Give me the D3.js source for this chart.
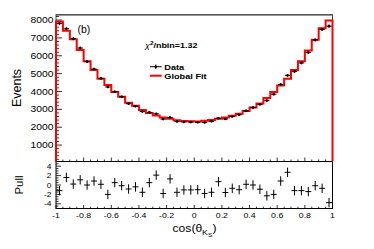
<!DOCTYPE html>
<html><head><meta charset="utf-8">
<script src="https://cdn.jsdelivr.net/npm/d3@7"></script>
<style>html,body{margin:0;padding:0;background:#fff;}svg{display:block;font-family:"Liberation Sans",Arial,sans-serif;}</style>
</head><body>
<script>
// ---- data (40 bins of cos(theta_Ks), width 0.05) ----
const binEdgesLow = d3.range(40).map(i => -1 + i * 0.05);
const dataCounts = [7816, 7515, 6955, 6433, 5670, 5257, 4735, 4255, 3987, 3700,
                    3320, 3175, 2880, 2830, 2750, 2455, 2545, 2320, 2295, 2285,
                    2275, 2270, 2330, 2505, 2460, 2600, 2700, 2915, 3100, 3280,
                    3490, 3850, 4395, 4905, 5125, 5600, 6190, 6885, 7480, 7660];
const fitCounts  = [7920, 7400, 6920, 6330, 5690, 5200, 4720, 4370, 3975, 3710,
                    3370, 3200, 2960, 2800, 2650, 2545, 2475, 2395, 2350, 2335,
                    2325, 2355, 2405, 2470, 2540, 2635, 2750, 2905, 3100, 3330,
                    3630, 3970, 4340, 4720, 5210, 5690, 6300, 6895, 7540, 7980];
const pulls      = [-1.2, 1.6, 0.2, 1.1, 0, 0.85, 0.15, -2.0, 0.5, -0.15,
                    -0.85, -0.4, -1.55, 0.5, 2.1, -1.8, 1.3, -1.55, -1.05, -1.05,
                    -1.0, -1.8, -1.55, 0.7, -1.6, -0.7, -1.0, 0.15, 0, -0.9,
                    -2.3, -2.0, 0.85, 2.7, -1.2, -1.2, -1.4, -0.15, -0.7, -3.75];
const yTickVals = [1000, 2000, 3000, 4000, 5000, 6000, 7000, 8000];
const pullTickVals = [-4, -2, 0, 2, 4];
const xTickVals = [-1, -0.8, -0.6, -0.4, -0.2, 0, 0.2, 0.4, 0.6, 0.8, 1];
const xTickLabels = ["-1", "-0.8", "-0.6", "-0.4", "-0.2", "0", "0.2", "0.4", "0.6", "0.8", "1"];
const chiText = "1.32";
const legendLabels = ["Data", "Global Fit"];

// ---- layout ----
const W = 374, H = 249;
const L = 56, R = 332.5, T = 14.7, MB = 161.5, PB = 208.5;
const SX = 1.2;
const svg = d3.select("body").append("svg").attr("width", W).attr("height", H);
svg.append("rect").attr("width", W).attr("height", H).attr("fill", "#fff");

const x = d3.scaleLinear().domain([-1, 1]).range([L, R]);
const y = d3.scaleLinear().domain([80, 8300]).range([MB, T]);
const yp = d3.scaleLinear().domain([-5, 5]).range([PB, MB]);
const bw = 0.05;

function txt(g, px, py, s, size, anchor, opts = {}) {
  const t = g.append("text")
    .attr("transform", `translate(${px},${py}) scale(${opts.sx || SX},1)`)
    .attr("font-size", size).attr("text-anchor", anchor).attr("fill", "#000")
    .text(s);
  if (opts.bold) t.attr("font-weight", "bold");
  return t;
}

// ---- frames ----
svg.append("rect").attr("x", L).attr("y", T).attr("width", R - L).attr("height", MB - T)
  .attr("fill", "none").attr("stroke", "#444").attr("stroke-width", 1);
svg.append("line").attr("x1", L).attr("x2", R).attr("y1", T).attr("y2", T)
  .attr("stroke", "#555").attr("stroke-width", 1.6);
svg.append("rect").attr("x", L).attr("y", MB).attr("width", R - L).attr("height", PB - MB)
  .attr("fill", "none").attr("stroke", "#000").attr("stroke-width", 1);

// ---- ticks ----
const tk = svg.append("g").attr("stroke", "#000").attr("stroke-width", 0.8);
// main y
d3.range(200, 8300, 200).forEach(v => {
  const major = v % 1000 === 0;
  tk.append("line").attr("x1", L).attr("x2", L + (major ? 6 : 3))
    .attr("y1", y(v)).attr("y2", y(v));
});
// main x (bottom, pointing up) and pull x
d3.range(0, 41).forEach(i => {
  const v = -1 + i * 0.05;
  const major = i % 4 === 0;
  tk.append("line").attr("x1", x(v)).attr("x2", x(v))
    .attr("y1", MB).attr("y2", MB - (major ? 4 : 2));
  tk.append("line").attr("x1", x(v)).attr("x2", x(v))
    .attr("y1", PB).attr("y2", PB - (major ? 3.5 : 1.8));
});
// pull y
d3.range(-4.5, 5, 0.5).forEach(v => {
  const major = Math.abs(v % 2) < 1e-9;
  tk.append("line").attr("x1", L).attr("x2", L + (major ? 5 : 2.5))
    .attr("y1", yp(v)).attr("y2", yp(v));
});

// ---- tick labels ----
const lab = svg.append("g");
yTickVals.forEach(v => txt(lab, 53.5, y(v) + 3.1, String(v), 8.6, "end"));
pullTickVals.forEach(v => txt(lab, 51.5, yp(v) + 2.5, String(v), 7, "end"));
xTickVals.forEach((v, i) => txt(lab, x(v), 218, xTickLabels[i], 7.3, "middle"));

// ---- fit histogram (red step) ----
let p = `M${x(-1)},${MB}`;
fitCounts.forEach((f, i) => {
  p += `V${y(f)}H${x(binEdgesLow[i] + bw)}`;
});
p += `V${MB}`;
svg.append("path").attr("d", p).attr("fill", "none").attr("stroke", "#ff0000").attr("stroke-width", 2);

// ---- data points ----
const dg = svg.append("g").attr("stroke", "#000").attr("stroke-width", 1);
dataCounts.forEach((d, i) => {
  const c = binEdgesLow[i] + bw / 2;
  const e = Math.sqrt(d);
  dg.append("line").attr("x1", x(binEdgesLow[i]) + 0.8).attr("x2", x(binEdgesLow[i] + bw) - 0.8)
    .attr("y1", y(d)).attr("y2", y(d));
  dg.append("line").attr("x1", x(c)).attr("x2", x(c)).attr("y1", y(d - e)).attr("y2", y(d + e));
  dg.append("circle").attr("cx", x(c)).attr("cy", y(d)).attr("r", 1.3).attr("fill", "#000").attr("stroke", "none");
});

// ---- pulls ----
const pg = svg.append("g").attr("stroke", "#000").attr("stroke-width", 1);
pulls.forEach((v, i) => {
  const c = binEdgesLow[i] + bw / 2;
  pg.append("line").attr("x1", x(binEdgesLow[i]) + 0.5).attr("x2", x(binEdgesLow[i] + bw) - 0.5)
    .attr("y1", yp(v)).attr("y2", yp(v));
  pg.append("line").attr("x1", x(c)).attr("x2", x(c)).attr("y1", yp(v - 1)).attr("y2", yp(v + 1));
});

// ---- annotations ----
const an = svg.append("g");
txt(an, 77.5, 32.5, "(b)", 10.5, "start", { sx: 1.0 });
const chi = an.append("text").attr("transform", `translate(145,48) scale(1.15,1)`)
  .attr("font-size", 7.8).attr("fill", "#000");
chi.append("tspan").attr("font-style", "italic").text("χ");
chi.append("tspan").attr("font-size", 5.5).attr("dy", -3).attr("font-weight", "bold").text("2");
chi.append("tspan").attr("dy", 3).attr("font-weight", "bold").text("/nbin=" + chiText);

// legend
an.append("line").attr("x1", 150).attr("x2", 161.7).attr("y1", 66.7).attr("y2", 66.7)
  .attr("stroke", "#000").attr("stroke-width", 1);
an.append("line").attr("x1", 155.8).attr("x2", 155.8).attr("y1", 64.5).attr("y2", 68.9)
  .attr("stroke", "#000").attr("stroke-width", 1);
an.append("circle").attr("cx", 155.8).attr("cy", 66.7).attr("r", 1.3).attr("fill", "#000");
an.append("line").attr("x1", 150).attr("x2", 161.7).attr("y1", 75.7).attr("y2", 75.7)
  .attr("stroke", "#ff0000").attr("stroke-width", 2);
txt(an, 164.3, 69.6, legendLabels[0], 8, "start", { bold: true, sx: 1.15 });
txt(an, 164.3, 78.6, legendLabels[1], 8, "start", { bold: true, sx: 1.15 });

// ---- axis titles ----
svg.append("text").attr("transform", "translate(20.5,88) rotate(-90)")
  .attr("font-size", 12.5).attr("text-anchor", "middle").attr("fill", "#000").text("Events");
svg.append("text").attr("transform", "translate(23,185) rotate(-90)")
  .attr("font-size", 11.5).attr("text-anchor", "middle").attr("fill", "#000").text("Pull");
const xt = svg.append("text").attr("transform", "translate(194.5,232) scale(1.1,1)")
  .attr("font-size", 11).attr("text-anchor", "middle").attr("fill", "#000");
xt.append("tspan").text("cos(θ");
xt.append("tspan").attr("font-size", 8).attr("dy", 3).text("K");
xt.append("tspan").attr("font-size", 6).attr("dy", 2).text("S");
xt.append("tspan").attr("dy", -5).text(")");
</script>
</body></html>
